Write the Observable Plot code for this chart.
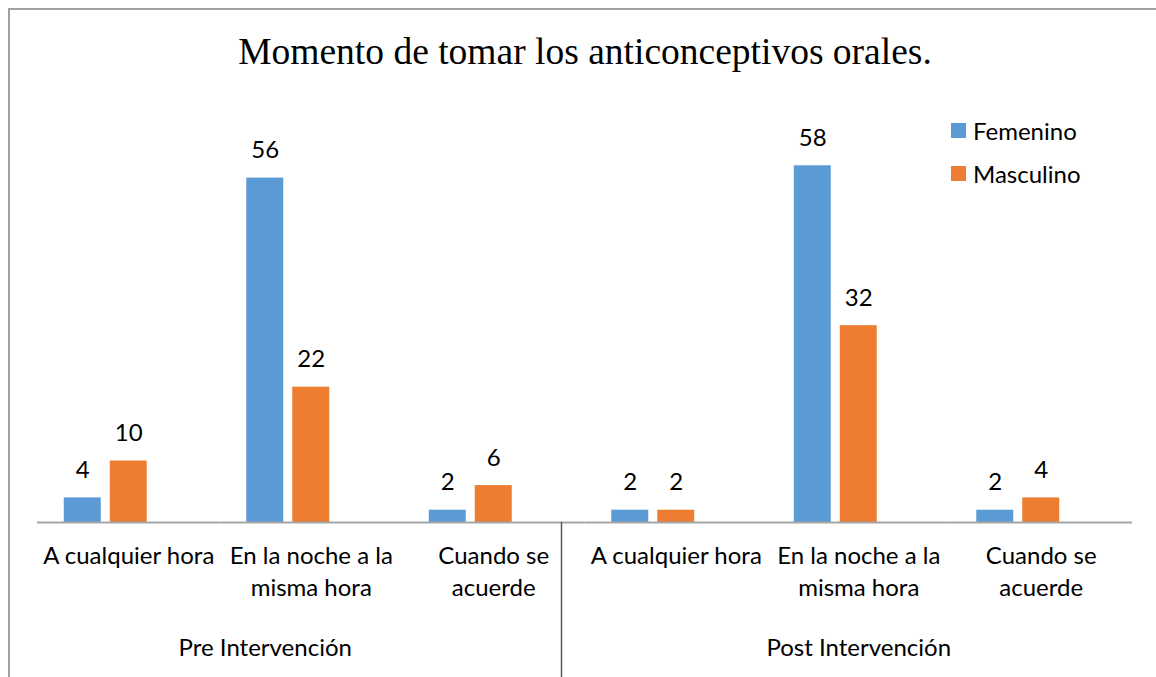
<!DOCTYPE html>
<html>
<head>
<meta charset="utf-8">
<script src="https://cdn.jsdelivr.net/npm/d3@7"></script>
<script src="https://cdn.jsdelivr.net/npm/@observablehq/plot@0.6"></script>
<style>
  html, body { margin: 0; padding: 0; background: #fff; }
  #wrap { position: relative; width: 1156px; height: 677px; overflow: hidden; font-family: Lato, sans-serif; }
  #frame { position: absolute; left: 8px; top: 8px; width: 2000px; height: 2000px; border-left: 2px solid #a0a0a0; border-top: 2px solid #a0a0a0; box-sizing: border-box; pointer-events: none; }
  #title { height: 100px; box-sizing: border-box; padding-top: 33px; line-height: 38px; font-family: "Liberation Serif", "Times New Roman", serif; font-size: 37.5px; text-align: center; padding-left: 14px; color: #000; white-space: nowrap; }
  #legend { position: absolute; left: 951px; top: 109px; }
  #legend .lg-swatch { height: 43px; padding-bottom: 0 !important; display: flex; align-items: center; }
  #legend .lg-swatch svg { margin-right: 7px !important; }
  #legend .lg { font-family: Lato, sans-serif; font-size: 24px; color: #000; min-height: 0; margin: 0; }
</style>
</head>
<body>
<div id="wrap">
  <div id="frame"></div>
  <div id="title"></div>
  <div id="chart"></div>
  <div id="legend"></div>
</div>
<script>
const title = "Momento de tomar los anticonceptivos orales.";
const periods = ["Pre Intervención", "Post Intervención"];
const categories = ["A cualquier hora", "En la noche a la misma hora", "Cuando se acuerde"];
const tickLabels = ["A cualquier hora", "En la noche a la\nmisma hora", "Cuando se\nacuerde"];
const series = ["Femenino", "Masculino"];
const femenino = [4, 56, 2, 2, 58, 2];
const masculino = [10, 22, 6, 2, 32, 4];
const colors = ["#5B9BD5", "#ED7D31"];

document.getElementById("title").textContent = title;

const keys = [];
const keyLabel = new Map();
periods.forEach(p => categories.forEach((c, j) => {
  const k = p + "|" + c;
  keys.push(k);
  keyLabel.set(k, tickLabels[j]);
}));

const rows = [];
keys.forEach((k, i) => {
  rows.push({key: k, series: "Femenino", value: femenino[i]});
  rows.push({key: k, series: "Masculino", value: masculino[i]});
});

const groupRows = [
  {key: keys[1], label: periods[0], shift: -46},
  {key: keys[4], label: periods[1], shift: 0}
];

const H = 577;
const chart = Plot.plot({
  width: 1156,
  height: H,
  marginLeft: 37,
  marginRight: 24,
  marginTop: 53,
  marginBottom: 155,
  style: {fontFamily: "Lato, sans-serif", fontSize: "24px", color: "#000", background: "transparent"},
  fx: {domain: keys, padding: 0, round: false, axis: null},
  x: {domain: [...series, "(vacío)"], paddingInner: 0.196, paddingOuter: 0.582, round: false, axis: null},
  y: {domain: [0, 60], axis: null},
  color: {domain: series, range: colors},
  marks: [
    Plot.barY(rows, {fx: "key", x: "series", y: "value", fill: "series"}),
    Plot.ruleY([0], {stroke: "#a6a6a6", strokeWidth: 2}),
    Plot.text(rows, {fx: "key", x: "series", y: "value", text: d => String(d.value), lineAnchor: "bottom", dy: -20, fill: "#000", fontSize: 24}),
    Plot.axisFx({anchor: "bottom", tickSize: 0, tickPadding: 19, label: null, tickFormat: k => keyLabel.get(k), fontSize: 24, lineHeight: 1.33, fill: "#000"}),
    Plot.text(groupRows, {fx: "key", text: "label", frameAnchor: "bottom", lineAnchor: "top", dy: 116, fontSize: 24, fill: "#000"})
  ]
});
document.getElementById("chart").appendChild(chart);

const svg = d3.select(chart);

// divider between the two periods: midway between the last bar of one period and the first bar of the next
const fx = chart.scale("fx");
const xs = chart.scale("x");
const y = chart.scale("y");
const x0 = xs.range[0];
const endPre = fx.apply(keys[2]) + (xs.apply("Masculino") - x0) + xs.bandwidth;
const startPost = fx.apply(keys[3]) + (xs.apply("Femenino") - x0);
const xDiv = (endPre + startPost) / 2;
svg.append("line")
  .attr("x1", xDiv).attr("x2", xDiv)
  .attr("y1", y.apply(0)).attr("y2", H)
  .attr("stroke", "#595959").attr("stroke-width", 1.5);

// horizontal shift for group labels (Excel places them unevenly)
svg.selectAll("text").filter(function() { return periods.includes(this.textContent); })
  .each(function() {
    const g = groupRows.find(r => r.label === this.textContent);
    d3.select(this).attr("dx", g.shift);
  });

const legend = Plot.legend({
  color: {domain: series, range: colors},
  legend: "swatches",
  columns: 1,
  swatchSize: 15,
  className: "lg",
  style: {fontFamily: "Lato, sans-serif", fontSize: "24px", color: "#000"}
});
document.getElementById("legend").appendChild(legend);
</script>
</body>
</html>
